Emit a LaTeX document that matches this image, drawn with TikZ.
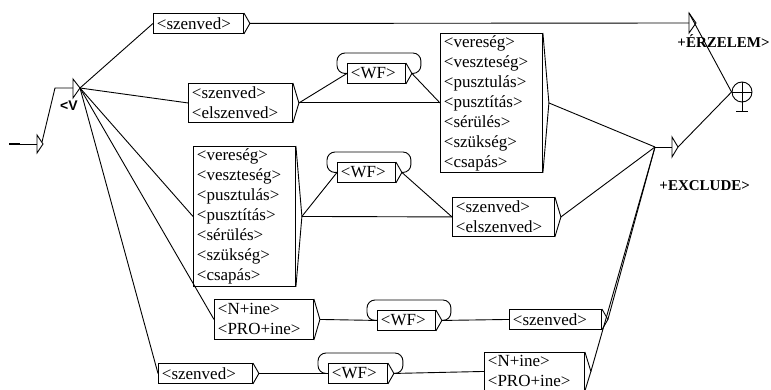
\documentclass[tikz,border=0pt]{standalone}
\usepackage{fontspec}
\setmainfont{Liberation Serif}
\newfontfamily\vsans{Liberation Sans}
\usetikzlibrary{calc}
\begin{document}
\begin{tikzpicture}[x=1pt,y=-1pt,line width=0.9pt,
  box/.style n args={3}{draw, rectangle, anchor=north west, inner xsep=3.5pt, inner ysep=0pt,
     minimum width=#1, minimum height=#2, text width=#3, align=left,
     font=\fontsize{17}{20}\selectfont},
  outlbl/.style={font=\bfseries\fontsize{15}{18}\selectfont, anchor=west, inner sep=0pt},
  wire/.style={line width=0.9pt},
  lp/.style={rounded corners=8pt}]
\useasboundingbox (0,0) rectangle (771,390);

% boxes
\node[box={90pt}{20pt}{83pt}]   (s1)   at (153,13)  {<szenved>};
\node[box={104pt}{39pt}{97pt}]  (s2)   at (188,83)  {<szenved>\\<elszenved>};
\node[box={58pt}{20pt}{51pt}]   (wf1)  at (347,63)  {<WF>};
\node[box={102pt}{139pt}{95pt}] (big1) at (440,33)  {<vereség>\\<veszteség>\\<pusztulás>\\<pusztítás>\\<sérülés>\\<szükség>\\<csapás>};
\node[box={102pt}{140pt}{95pt}] (big2) at (193,146) {<vereség>\\<veszteség>\\<pusztulás>\\<pusztítás>\\<sérülés>\\<szükség>\\<csapás>};
\node[box={58pt}{20pt}{51pt}]   (wf2)  at (337,162) {<WF>};
\node[box={102pt}{39pt}{95pt}]  (s3)   at (452,197) {<szenved>\\<elszenved>};
\node[box={99pt}{40pt}{92pt}]   (n1)   at (214,299) {<N+ine>\\<PRO+ine>};
\node[box={58pt}{20pt}{51pt}]   (wf3)  at (377,310) {<WF>};
\node[box={92pt}{20pt}{85pt}]   (s4)   at (509,309) {<szenved>};
\node[box={94pt}{20pt}{87pt}]   (s5)   at (158,363) {<szenved>};
\node[box={59pt}{20pt}{52pt}]   (wf4)  at (328,363) {<WF>};
\node[box={100pt}{38pt}{93pt}]  (n2)   at (484,352) {<N+ine>\\<PRO+ine>};

% right-hand arrow shapes and output points
\foreach \n in {s1,s2,wf1,big1,big2,wf2,s3,n1,wf3,s4,s5,wf4,n2}{
  \coordinate (\n-o) at ($(\n.east)+(6,0)$);
  \draw (\n.north east) -- (\n-o) -- (\n.south east);
}

% WF loops
\foreach \n in {wf1,wf2,wf3,wf4}{
  \draw[lp] (\n-o) -- ($(\n.east)+(15,0)$) -- ($(\n.north east)+(15,-10)$)
     -- ($(\n.north west)+(-10,-10)$) -- ($(\n.west)+(-10,0)$) -- (\n.west);
}

% initial state
\draw[line width=2pt] (9,144) -- (20,144);
\coordinate (ini) at (37,144);
\draw (20,144) -- (ini);
\draw (37,135) -- (43,144) -- (37,153) -- cycle;
\coordinate (inio) at (42,142);
\coordinate (vin) at (73,88);
\draw (inio) -- (55,88) -- (vin);
\draw (73,79) -- (80,88) -- (73,98) -- cycle;
\coordinate (vo) at (80,88);
\node[font=\vsans\bfseries\fontsize{14}{16}\selectfont, inner sep=0pt] (vl) at (69,106) {<V};

% output boxes near the end
\coordinate (col) at (655,147);
\coordinate (exin) at (672,147);
\draw (672,137) -- (678,147) -- (672,157) -- cycle;
\coordinate (exo) at (678,147);
\node[outlbl] (excl) at (659,186) {+EXCLUDE>};

\coordinate (erin) at (689,23);
\draw (689,13) -- (696,23) -- (689,33) -- cycle;
\coordinate (ero) at (689,13);
\node[outlbl] (erzl) at (677,41) {+ÉRZELEM>};

% final state
\node[draw, circle, minimum size=20pt, inner sep=0pt] (fin) at (742,92) {};
\draw (fin.west) -- (fin.east);
\draw (fin.north) -- ($(fin.north)+(0,30)$) coordinate (fb);
\draw ($(fb)+(-6,0)$) -- ($(fb)+(6,0)$);

% connectors
\draw[wire] (vo) -- (s1.west);
\draw[wire] (vo) -- (s2.west);
\draw[wire] (vo) -- (big2.west);
\draw[wire] (vo) -- (n1.west);
\draw[wire] (vo) -- (s5.west);

\draw[wire] (s1-o) -- (erin);
\draw[wire] (s2-o) -- (wf1.west);
\draw[wire] (s2-o) -- (big1.west);
\draw[wire] (wf1-o) -- (big1.west);
\draw[wire] (big1-o) -- (col);

\draw[wire] (big2-o) -- (wf2.west);
\draw[wire] (big2-o) -- (s3.west);
\draw[wire] (wf2-o) -- (s3.west);
\draw[wire] (s3-o) -- (col);

\draw[wire] (n1-o) -- (wf3.west);
\draw[wire] (wf3-o) -- (s4.west);
\draw[wire] (s4-o) -- (col);

\draw[wire] (s5-o) -- (wf4.west);
\draw[wire] (wf4-o) -- (n2.west);
\draw[wire] (n2-o) -- (col);

\draw[wire] (col) -- (exin);
\draw[wire] (exo) -- (fin.west);
\draw[wire] (ero) -- (fin.west);
\end{tikzpicture}
\end{document}
